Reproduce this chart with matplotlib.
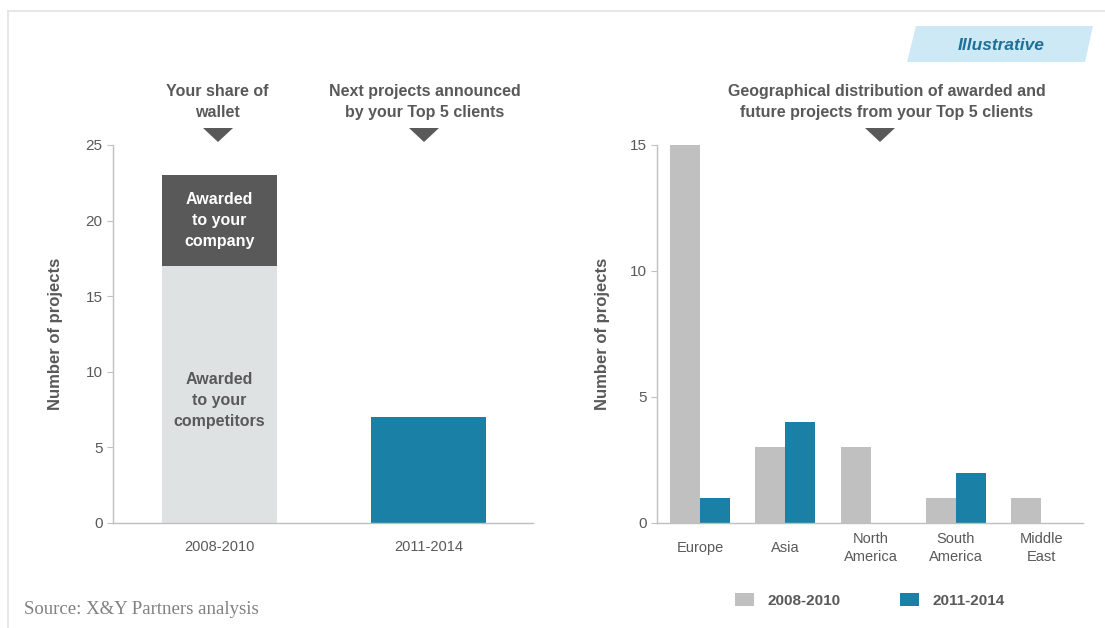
import matplotlib
matplotlib.use('Agg')
from matplotlib import pyplot as plt
from matplotlib.patches import Polygon
from matplotlib.lines import Line2D
import numpy as np

plt.rcParams['font.family'] = ['Liberation Sans', 'DejaVu Sans']

# left panel data
periods = ['2008-2010', '2011-2014']
competitors = [17, 0]
company = [6, 0]
announced = [0, 7]

# right panel data
regions = ['Europe', 'Asia', 'North\nAmerica', 'South\nAmerica', 'Middle\nEast']
series_labels = ['2008-2010', '2011-2014']
projects_0810 = [15, 3, 3, 1, 1]
projects_1114 = [1, 4, 0, 2, 0]

W, H = 1105, 628
TXT = '#595959'
SPINE = '#bfbfbf'
LIGHT = '#dfe2e3'
DARK = '#595959'
BLUE = '#1a80a6'
GREY = '#c0c0c0'


def fx(px):
    return px / W


def fy(py):
    return 1 - py / H


fig = plt.figure(figsize=(W / 100, H / 100), dpi=100)

# outer frame lines
fig.add_artist(Line2D([fx(8), 1], [fy(11), fy(11)], color='#e3e3e3', lw=1.2))
fig.add_artist(Line2D([fx(8), fx(8)], [0, fy(11)], color='#e3e3e3', lw=1.2))


def style_axes(ax):
    for s in ['top', 'right']:
        ax.spines[s].set_visible(False)
    for s in ['left', 'bottom']:
        ax.spines[s].set_color(SPINE)
        ax.spines[s].set_linewidth(1.0)
    ax.tick_params(axis='y', colors=SPINE, labelcolor=TXT, labelsize=11, length=4)
    ax.tick_params(axis='x', length=0, labelcolor=TXT, labelsize=10.5, pad=12)
    ax.set_ylabel('Number of projects', fontsize=12, fontweight='bold', color=TXT)


# ---- left chart ----
ax1 = fig.add_axes([fx(113), fy(523), fx(533) - fx(113), fy(145) - fy(523)])
x = np.arange(len(periods))
ax1.bar(x, competitors, width=0.55, color=LIGHT)
ax1.bar(x, company, width=0.55, bottom=competitors, color=DARK)
ax1.bar(x, announced, width=0.55, color=BLUE)
ax1.set_xlim(-0.51, 1.5)
ax1.set_ylim(0, 25)
ax1.set_yticks([0, 5, 10, 15, 20, 25])
ax1.set_xticks(x)
ax1.set_xticklabels(periods)
style_axes(ax1)
ax1.yaxis.set_label_coords(-0.12, 0.5)
ax1.text(0, competitors[0] + company[0] / 2, 'Awarded\nto your\ncompany', ha='center', va='center',
         color='white', fontsize=11.5, fontweight='bold', linespacing=1.5)
ax1.text(0, 8.1, 'Awarded\nto your\ncompetitors', ha='center', va='center',
         color=TXT, fontsize=11.5, fontweight='bold', linespacing=1.5)

# ---- right chart ----
ax2 = fig.add_axes([fx(657), fy(523), fx(1083) - fx(657), fy(145) - fy(523)])
xr = np.arange(len(regions))
bw = 0.35
ax2.bar(xr - bw / 2, projects_0810, width=bw, color=GREY, label=series_labels[0])
ax2.bar(xr + bw / 2, projects_1114, width=bw, color=BLUE, label=series_labels[1])
ax2.set_xlim(-0.504, 4.49)
ax2.set_ylim(0, 15)
ax2.set_yticks([0, 5, 10, 15])
ax2.set_xticks(xr)
ax2.set_xticklabels(regions, linespacing=1.3)
style_axes(ax2)
ax2.tick_params(axis='x', pad=18)
ax2.yaxis.set_label_coords(-0.11, 0.5)
for lab in ax2.get_xticklabels():
    lab.set_va('center')
leg = ax2.legend(loc='upper center', bbox_to_anchor=(0.5, -0.15), ncol=2, frameon=False,
                 handlelength=1.2, handleheight=0.9, columnspacing=3.9, handletextpad=0.9,
                 prop={'weight': 'bold', 'size': 11})
for t in leg.get_texts():
    t.set_color(TXT)

# ---- headers with triangles ----
headers = [
    (217, 'Your share of\nwallet', 218),
    (425, 'Next projects announced\nby your Top 5 clients', 424),
    (887, 'Geographical distribution of awarded and\nfuture projects from your Top 5 clients', 880),
]
for cx, txt, tx in headers:
    fig.text(fx(cx), fy(102), txt, ha='center', va='center', fontsize=11.5, fontweight='bold',
             color=TXT, linespacing=1.45)
    fig.add_artist(Polygon([[fx(tx - 15), fy(128)], [fx(tx + 15), fy(128)], [fx(tx), fy(142)]],
                           closed=True, transform=fig.transFigure, color=TXT, lw=0))

# illustrative tag
fig.add_artist(Polygon([[fx(916), fy(26)], [fx(1093), fy(26)], [fx(1085), fy(62)], [fx(907), fy(62)]],
                       closed=True, transform=fig.transFigure, facecolor='#cde9f5', edgecolor='none'))
fig.text(fx(1001), fy(45), 'Illustrative', ha='center', va='center', fontsize=12.5,
         fontweight='bold', style='italic', color='#1f6f96')

fig.text(fx(24), fy(609), 'Source: X&Y Partners analysis', ha='left', va='center',
         fontsize=13.5, color='#808080', family='Liberation Serif')

fig.savefig('out.png', dpi=100)
